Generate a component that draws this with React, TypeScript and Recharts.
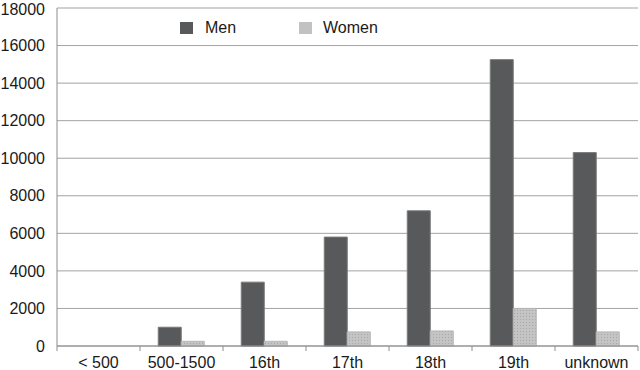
import { BarChart, Bar, XAxis, YAxis, CartesianGrid, Legend } from 'recharts';

document.body.style.margin = '0';

// values
const categories = ['< 500', '500-1500', '16th', '17th', '18th', '19th', 'unknown'];
const menValues = [0, 1000, 3400, 5800, 7200, 15250, 10300];
const womenValues = [0, 250, 250, 750, 800, 2000, 750];
const yTicks = [0, 2000, 4000, 6000, 8000, 10000, 12000, 14000, 16000, 18000];

const data = categories.map((name, i) => ({ name, men: menValues[i], women: womenValues[i] }));

const WIDTH = 640;
const HEIGHT = 370;
const Y_AXIS_W = 57;
const RIGHT = 2;
const BAND = (WIDTH - Y_AXIS_W - RIGHT) / categories.length;
const FONT = '"Liberation Sans", Arial, sans-serif';

const XTick = ({ x, y, payload, index }: any) => (
  <g>
    <line x1={x - BAND / 2} x2={x - BAND / 2} y1={y} y2={y + 5} stroke="#8c8c8c" />
    {index === categories.length - 1 && (
      <line x1={x + BAND / 2} x2={x + BAND / 2} y1={y} y2={y + 5} stroke="#8c8c8c" />
    )}
    <text x={x} y={y + 11} dy="0.71em" textAnchor="middle" fill="#1a1a1a" fontSize={16} fontFamily={FONT}>
      {payload.value}
    </text>
  </g>
);

const LegendContent = () => (
  <div style={{ display: 'flex', alignItems: 'center', fontFamily: FONT, fontSize: 16, color: '#1a1a1a' }}>
    <span style={{ width: 13, height: 12, background: '#58595b', display: 'inline-block' }} />
    <span style={{ marginLeft: 12, width: 94 }}>Men</span>
    <span style={{ width: 13, height: 12, background: '#c2c2c2', display: 'inline-block' }} />
    <span style={{ marginLeft: 11 }}>Women</span>
  </div>
);

export default function App() {
  return (
    <div style={{ position: 'relative', width: WIDTH, height: HEIGHT, background: '#fff' }}>
      <BarChart
        width={WIDTH}
        height={HEIGHT}
        data={data}
        margin={{ top: 8, right: RIGHT, left: 0, bottom: 0 }}
        barCategoryGap="22%"
        barGap={0}
      >
        <defs>
          <pattern id="dots" width="3" height="3" patternUnits="userSpaceOnUse">
            <rect width="3" height="3" fill="#c4c4c4" />
            <rect x="1" y="1" width="1" height="1" fill="#a8a8a8" />
          </pattern>
        </defs>
        <CartesianGrid vertical={false} stroke="#a3a3a3" />
        <XAxis
          dataKey="name"
          height={24}
          tickSize={0}
          tickMargin={0}
          tick={<XTick />}
          interval={0}
          axisLine={{ stroke: '#8c8c8c' }}
          tickLine={false}
        />
        <YAxis
          width={Y_AXIS_W}
          domain={[0, 18000]}
          ticks={yTicks}
          tickSize={0}
          tickMargin={12}
          axisLine={{ stroke: '#8c8c8c' }}
          tickLine={false}
          tick={{ fill: '#1a1a1a', fontSize: 16, fontFamily: FONT }}
        />
        <Legend
          verticalAlign="middle"
          align="center"
          wrapperStyle={{ top: 19, left: 180, width: 'auto' }}
          content={<LegendContent />}
        />
        <Bar dataKey="men" name="Men" fill="#58595b" stroke="#7a7a7a" strokeWidth={1} isAnimationActive={false} />
        <Bar dataKey="women" name="Women" fill="url(#dots)" stroke="#b5b5b5" strokeWidth={1} isAnimationActive={false} />
      </BarChart>
    </div>
  );
}
